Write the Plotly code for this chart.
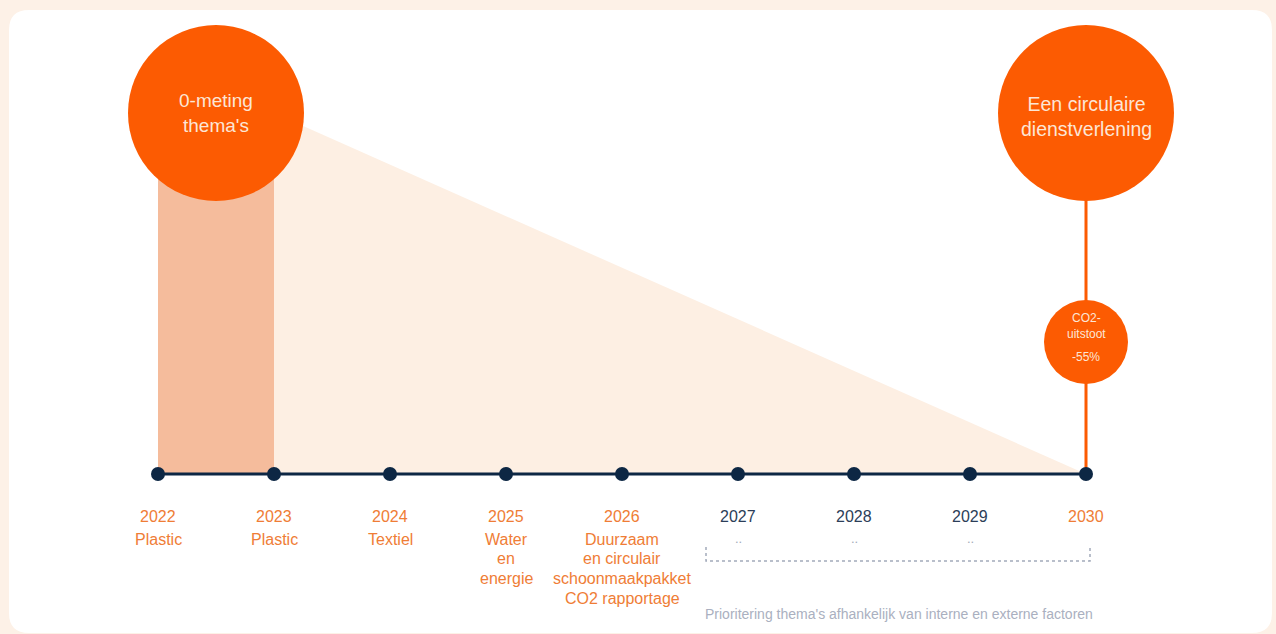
import plotly.graph_objects as go

# ---- data ----
years = [2022, 2023, 2024, 2025, 2026, 2027, 2028, 2029, 2030]
year_labels = [str(y) for y in years]
themes = [["Plastic"], ["Plastic"], ["Textiel"], ["Water", "en", "energie"],
          ["Duurzaam", "en circulair", "schoonmaakpakket", "CO2 rapportage"],
          [".."], [".."], [".."], []]
planned = [True, True, True, True, True, False, False, False, True]

start_label = "0-meting<br>thema's"
goal_label = "Een circulaire<br>dienstverlening"
co2_label = "CO2-<br>uitstoot"
co2_value = "-55%"
footnote = "Prioritering thema's afhankelijk van interne en externe factoren"

# ---- styling ----
W, H = 1276, 634
ORANGE = "#FC5B02"
SALMON = "#F5BC9C"
PEACH = "#FDEFE3"
BG = "#FDF1E7"
NAVY = "#0D2744"
LABEL_OR = "#EF7D36"
LABEL_NAVY = "#2C3E58"
GREY = "#A3AABA"
CIRCLE_TXT = "#FCE6D6"

# axis mapping: 116 px per year, 2022 at px 158; y=0 at px 474, 1 unit per px
px_per_year = 116
x0_year = years[0] - 158 / px_per_year
x1_year = years[0] + (W - 158) / px_per_year
y_bottom = -(H - 474)
y_top = 474

circle_level = 361      # height of the big circles
co2_level = 132         # height of the small circle
big_d = 176
small_d = 84

fig = go.Figure()

# light triangle (fading ambition)
fig.add_trace(go.Scatter(
    x=[years[1], years[-1], years[1], years[1]],
    y=[circle_level, 0, 0, circle_level],
    fill="toself", fillcolor=PEACH, line=dict(width=0), mode="lines",
    hoverinfo="skip"))

# salmon block 2022-2023
fig.add_trace(go.Scatter(
    x=[years[0], years[1], years[1], years[0], years[0]],
    y=[0, 0, circle_level, circle_level, 0],
    fill="toself", fillcolor=SALMON, line=dict(width=0), mode="lines",
    hoverinfo="skip"))

# vertical orange line at 2030
fig.add_trace(go.Scatter(
    x=[years[-1], years[-1]], y=[0, circle_level],
    mode="lines", line=dict(color=ORANGE, width=3), hoverinfo="skip"))

# timeline
fig.add_trace(go.Scatter(
    x=years, y=[0] * len(years), mode="lines+markers",
    line=dict(color=NAVY, width=3),
    marker=dict(color=NAVY, size=14), hoverinfo="skip"))

# big circles
fig.add_trace(go.Scatter(
    x=[(years[0] + years[1]) / 2, years[-1]], y=[circle_level, circle_level],
    mode="markers", marker=dict(color=ORANGE, size=big_d, line=dict(width=0)),
    hoverinfo="skip"))
# small circle
fig.add_trace(go.Scatter(
    x=[years[-1]], y=[co2_level], mode="markers",
    marker=dict(color=ORANGE, size=small_d, line=dict(width=0)),
    hoverinfo="skip"))

# dotted bracket under 2027-2030
bx0 = years[0] + (706 - 158) / px_per_year
bx1 = years[0] + (1090 - 158) / px_per_year
fig.add_trace(go.Scatter(
    x=[bx0, bx0, bx1, bx1], y=[-73, -87, -87, -73], mode="lines",
    line=dict(color=GREY, width=1.5, dash="dot"), hoverinfo="skip"))

FONT = "Liberation Sans, Arial, sans-serif"
LINE_STEP = 19.7
ann = []
for yr, lab, th, pl in zip(years, year_labels, themes, planned):
    col = LABEL_OR if pl else LABEL_NAVY
    ann.append(dict(x=yr, y=-42, text=lab, showarrow=False, yanchor="middle",
                    font=dict(family=FONT, size=16, color=col)))
    for i, line in enumerate(th):
        if line == "..":
            ann.append(dict(x=yr, y=-64, text=line, showarrow=False, yanchor="middle",
                            font=dict(family=FONT, size=13, color=GREY)))
        else:
            ann.append(dict(x=yr, y=-65 - i * LINE_STEP, text=line, showarrow=False,
                            yanchor="middle",
                            font=dict(family=FONT, size=16, color=LABEL_OR)))

ann.append(dict(x=(years[0] + years[1]) / 2, y=circle_level, text=start_label,
                showarrow=False, font=dict(family=FONT, size=19, color=CIRCLE_TXT)))
ann.append(dict(x=years[-1], y=circle_level - 3, text=goal_label,
                showarrow=False, font=dict(family=FONT, size=19.5, color=CIRCLE_TXT)))
ann.append(dict(x=years[-1], y=co2_level + 16, text=co2_label,
                showarrow=False, font=dict(family=FONT, size=12, color=CIRCLE_TXT)))
ann.append(dict(x=years[-1], y=co2_level - 15, text=co2_value,
                showarrow=False, font=dict(family=FONT, size=12, color=CIRCLE_TXT)))
ann.append(dict(x=years[0] + (898.5 - 158) / px_per_year, y=-140, text=footnote,
                showarrow=False, font=dict(family=FONT, size=14, color="#AAB0C0")))

# rounded white card (paper coordinates)
cx0, cx1, cy0, cy1, r = 9, 1272, 10, 633, 20
def px(x): return x / W
def py(y): return 1 - y / H
path = (f"M {px(cx0 + r)} {py(cy0)} L {px(cx1 - r)} {py(cy0)} "
        f"Q {px(cx1)} {py(cy0)} {px(cx1)} {py(cy0 + r)} "
        f"L {px(cx1)} {py(cy1 - r)} Q {px(cx1)} {py(cy1)} {px(cx1 - r)} {py(cy1)} "
        f"L {px(cx0 + r)} {py(cy1)} Q {px(cx0)} {py(cy1)} {px(cx0)} {py(cy1 - r)} "
        f"L {px(cx0)} {py(cy0 + r)} Q {px(cx0)} {py(cy0)} {px(cx0 + r)} {py(cy0)} Z")

fig.update_layout(
    width=W, height=H, margin=dict(l=0, r=0, t=0, b=0),
    paper_bgcolor=BG, plot_bgcolor="rgba(0,0,0,0)",
    showlegend=False, annotations=ann,
    shapes=[dict(type="path", path=path, xref="paper", yref="paper",
                 fillcolor="white", line=dict(width=0), layer="below")],
    xaxis=dict(range=[x0_year, x1_year], visible=False, fixedrange=True),
    yaxis=dict(range=[y_bottom, y_top], visible=False, fixedrange=True),
)

fig.write_html("out.html", config={"displayModeBar": False},
               post_script="document.body.style.margin='0';"
                           "document.body.style.overflow='hidden';")
